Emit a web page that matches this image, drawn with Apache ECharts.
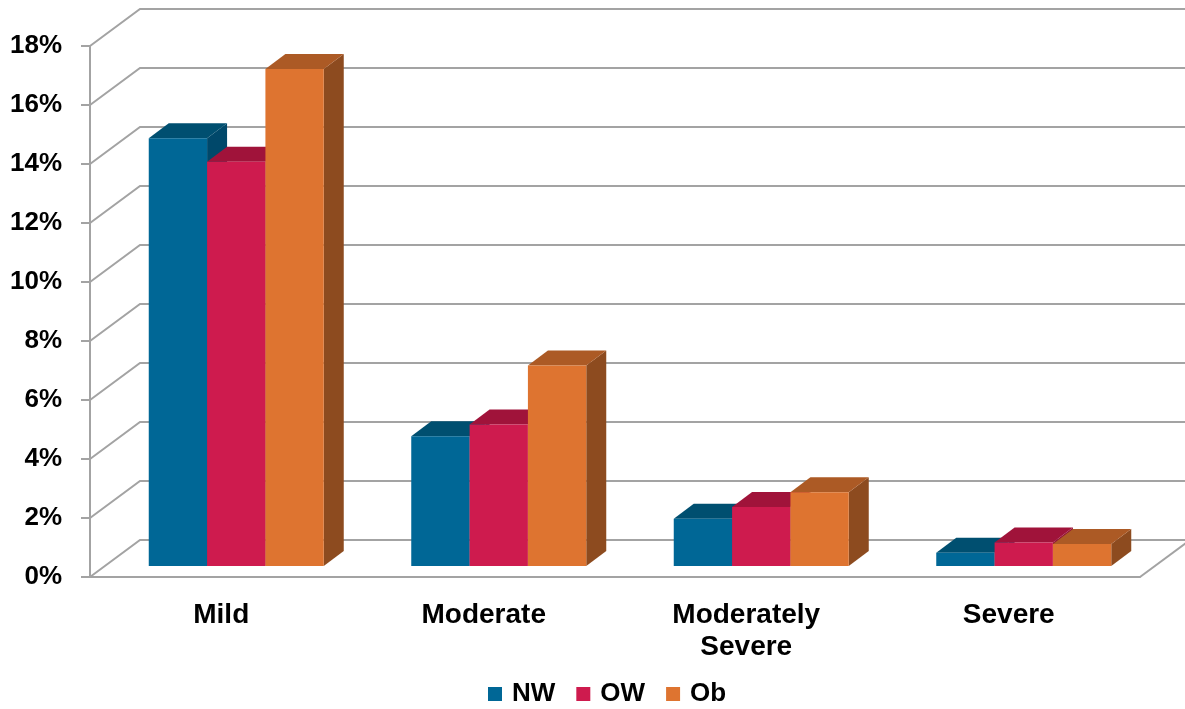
<!DOCTYPE html>
<html>
<head>
<meta charset="utf-8">
<script src="https://cdn.jsdelivr.net/npm/echarts@6/dist/echarts.min.js"></script>
<style>
  html, body { margin: 0; padding: 0; background: #fff; }
  #chart { width: 1185px; height: 709px; }
</style>
</head>
<body>
<div id="chart"></div>
<script>
// Share of respondents by severity level, per weight group (%)
const categories = ['Mild', 'Moderate', 'Moderately\nSevere', 'Severe'];
const nwValues = [14.5, 4.4, 1.6, 0.45];
const owValues = [13.7, 4.8, 2.0, 0.8];
const obValues = [16.85, 6.8, 2.5, 0.75];
const yTicks = [0, 2, 4, 6, 8, 10, 12, 14, 16, 18];

// Pseudo-3D geometry (pixels): depth of the walls, and where the bars sit inside it
const WALL_DX = 50, WALL_DY = -37;
const BAR_OFF_DX = 15, BAR_OFF_DY = -11;
const BAR_DX = 20, BAR_DY = -15;

const palette = [
  { front: '#006796', top: '#004F70', side: '#00486A' },
  { front: '#CE1B4E', top: '#A0133A', side: '#931236' },
  { front: '#DE7430', top: '#AC5A25', side: '#8D4B1F' }
];

const chart = echarts.init(document.getElementById('chart'), null, { renderer: 'canvas' });

function barRenderer(k) {
  const c = palette[k];
  return function (params, api) {
    const idx = api.value(0);
    const base = api.coord([idx, 0]);
    const top = api.coord([idx, api.value(1)]);
    const catW = api.size([1, 0])[0];
    const barW = catW / 4.5;
    const x0 = base[0] - 1.5 * barW + k * barW + BAR_OFF_DX;
    const yb = base[1] + BAR_OFF_DY;
    const yt = top[1] + BAR_OFF_DY;
    const x1 = x0 + barW;
    return {
      type: 'group',
      children: [
        {
          type: 'polygon',
          shape: { points: [[x1, yt], [x1 + BAR_DX, yt + BAR_DY], [x1 + BAR_DX, yb + BAR_DY], [x1, yb]] },
          style: { fill: c.side }
        },
        {
          type: 'polygon',
          shape: { points: [[x0, yt], [x1, yt], [x1 + BAR_DX, yt + BAR_DY], [x0 + BAR_DX, yt + BAR_DY]] },
          style: { fill: c.top }
        },
        {
          type: 'rect',
          shape: { x: x0, y: yt, width: barW, height: yb - yt },
          style: { fill: c.front }
        }
      ]
    };
  };
}

function wallRenderer(params, api) {
  const cs = params.coordSys;
  const v = api.value(1);
  const y = api.coord([0, v])[1];
  const children = [{
    type: 'polyline',
    shape: { points: [[cs.x, y], [cs.x + WALL_DX, y + WALL_DY], [cs.x + cs.width + WALL_DX + 40, y + WALL_DY]] },
    style: { stroke: '#A3A3A3', lineWidth: 2, fill: null }
  }];
  if (v === 0) {
    const xr = cs.x + cs.width;
    children.push({
      type: 'line',
      shape: { x1: xr, y1: y, x2: xr + WALL_DX, y2: y + WALL_DY },
      style: { stroke: '#A3A3A3', lineWidth: 2 }
    });
  }
  return { type: 'group', children: children };
}

const seriesDefs = [
  { name: 'NW', values: nwValues },
  { name: 'OW', values: owValues },
  { name: 'Ob', values: obValues }
];

const option = {
  backgroundColor: '#ffffff',
  animation: false,
  textStyle: { fontFamily: 'Liberation Sans, Arial, sans-serif' },
  grid: { left: 90, right: 45, top: 46, bottom: 132, containLabel: false },
  legend: {
    data: ['NW', 'OW', 'Ob'],
    top: 676,
    left: 483,
    icon: 'rect',
    itemWidth: 14,
    itemHeight: 14,
    itemGap: 21,
    textStyle: {
      fontSize: 26,
      fontWeight: 'bold',
      color: '#000',
      padding: [0, 0, 0, 5],
      fontFamily: 'Liberation Sans, Arial, sans-serif'
    }
  },
  xAxis: {
    type: 'category',
    data: categories,
    axisLine: { lineStyle: { color: '#A3A3A3', width: 2 } },
    axisTick: { length: 9, lineStyle: { color: '#A3A3A3', width: 2 } },
    axisLabel: {
      margin: 22,
      fontSize: 28,
      fontWeight: 'bold',
      color: '#000',
      lineHeight: 32,
      fontFamily: 'Liberation Sans, Arial, sans-serif'
    },
    splitLine: { show: false }
  },
  yAxis: {
    type: 'value',
    min: 0,
    max: 18,
    interval: 2,
    axisLine: { show: true, lineStyle: { color: '#A3A3A3', width: 2 } },
    axisTick: { show: true, length: 9, lineStyle: { color: '#A3A3A3', width: 2 } },
    axisLabel: {
      formatter: '{value}%',
      margin: 28,
      fontSize: 26,
      fontWeight: 'bold',
      color: '#000',
      fontFamily: 'Liberation Sans, Arial, sans-serif'
    },
    splitLine: { show: false }
  },
  series: [
    {
      type: 'custom',
      name: 'walls',
      renderItem: wallRenderer,
      data: yTicks.map(v => [0, v]),
      encode: { x: 0, y: 1 },
      silent: true,
      z: 1
    }
  ].concat(seriesDefs.map((s, k) => ({
    type: 'custom',
    name: s.name,
    renderItem: barRenderer(k),
    itemStyle: { color: palette[k].front },
    data: s.values.map((v, i) => [i, v]),
    encode: { x: 0, y: 1 },
    z: 2 + k
  })))
};

chart.setOption(option);
</script>
</body>
</html>
